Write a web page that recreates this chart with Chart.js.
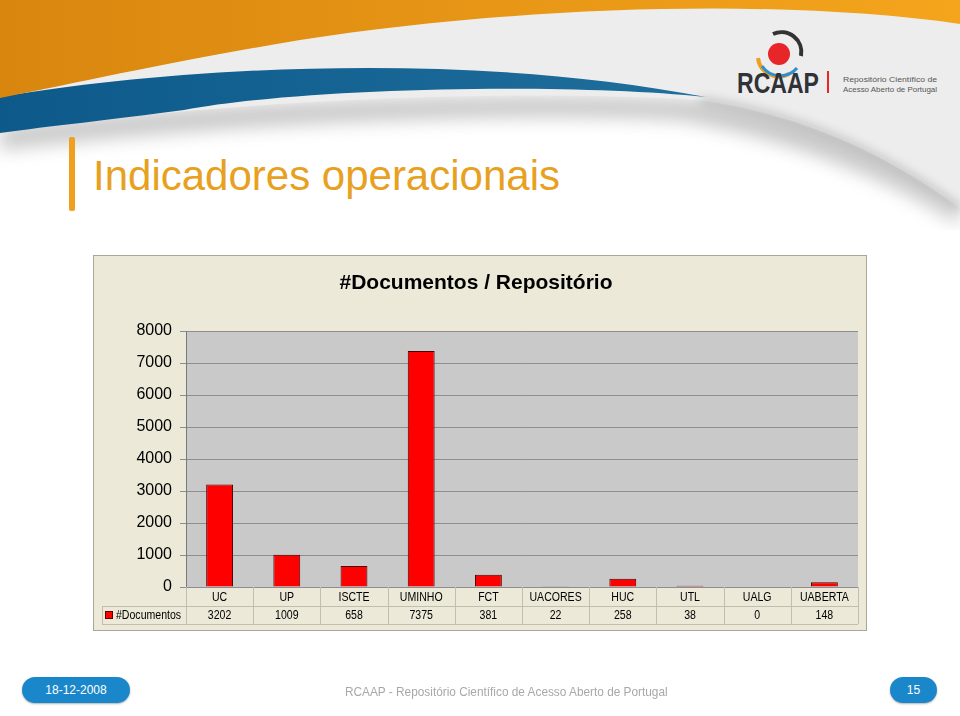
<!DOCTYPE html>
<html>
<head>
<meta charset="utf-8">
<script src="https://cdn.jsdelivr.net/npm/chart.js@4.4.1/dist/chart.umd.min.js"></script>
<style>
  html, body { margin: 0; padding: 0; background: #fff; }
  body { width: 960px; height: 716px; position: relative; overflow: hidden; font-family: "Liberation Sans", Arial, sans-serif; }
  #header { position: absolute; left: 0; top: 0; }
  #slideTitle { position: absolute; left: 93px; top: 152px; font-family: "Liberation Sans", Arial, sans-serif; font-size: 42px; color: #e7a11f; white-space: nowrap; }
  #titleBar { position: absolute; left: 69px; top: 137px; width: 6px; height: 74px; border-radius: 2px; background: #f0a020; }
  #chartBox { position: absolute; left: 94px; top: 256px; outline: 1px solid #aaa796; background: #ece9d8; }
  .pill { position: absolute; top: 677px; height: 26px; border-radius: 13px; background: #1b87cb; color: #fff; font-family: "Liberation Sans", sans-serif; font-size: 12px; line-height: 26px; text-align: center; box-shadow: 0 1px 2px rgba(0,0,0,0.3); }
  #footText { position: absolute; left: 345px; top: 684px; font-family: "Liberation Sans", sans-serif; font-size: 13px; color: #a8a8a8; white-space: nowrap; transform: scaleX(0.91); transform-origin: 0 0; }
</style>
</head>
<body>

<svg id="header" width="960" height="230" viewBox="0 0 960 230">
  <defs>
    <linearGradient id="og" x1="0" y1="0" x2="1" y2="0">
      <stop offset="0" stop-color="#d9860f"/>
      <stop offset="1" stop-color="#f4a51c"/>
    </linearGradient>
    <linearGradient id="bg" x1="0" y1="0" x2="1" y2="0">
      <stop offset="0" stop-color="#0d5a8a"/>
      <stop offset="1" stop-color="#1f6e9c"/>
    </linearGradient>
    <filter id="blur" x="-10%" y="-50%" width="120%" height="200%">
      <feGaussianBlur stdDeviation="9"/>
    </filter>
    <filter id="blur2" x="-10%" y="-50%" width="120%" height="200%">
      <feGaussianBlur stdDeviation="5"/>
    </filter>
  </defs>
  <!-- shadow under the grey band -->
  <path d="M0,128 C200,100 520,90 700,100 C820,112 900,160 960,205 L960,225 C900,185 800,140 680,120 C500,110 200,125 0,150 Z" fill="#9a9a9a" opacity="0.55" filter="url(#blur)"/>
  <!-- light grey band -->
  <path d="M0,0 L960,0 L960,208 C900,165 820,118 700,100 C520,88 220,100 0,132 Z" fill="#ededed"/>
  <path d="M700,100 C820,118 900,165 960,208" fill="none" stroke="#8c8c8c" stroke-width="6" opacity="0.5" filter="url(#blur2)"/>
  <!-- blue swoosh -->
  <path d="M0,97 C160,70 450,48 706,97 C560,82 300,88 184,110 C110,120 50,126 0,133 Z" fill="url(#bg)"/>
  <!-- orange swoosh -->
  <path d="M0,0 L960,0 L960,24 C780,-2 520,6 300,40 C180,60 90,80 0,98 Z" fill="url(#og)"/>
  <!-- logo -->
  <g transform="translate(779,54)">
    <path d="M-6,-20 A20,20 0 0 1 22,2" fill="none" stroke="#333" stroke-width="4"/>
    <path d="M-21,4 A21,21 0 0 0 10,20" fill="none" stroke="#f0a020" stroke-width="4"/>
    <path d="M-17,12 A22,22 0 0 0 18,14" fill="none" stroke="#2c8fd0" stroke-width="3"/>
    <ellipse cx="0" cy="0" rx="11" ry="11" fill="#e8262a"/>
  </g>
  <text x="737" y="93" font-family="Liberation Sans, Arial" font-weight="bold" font-size="29" fill="#2f3236" textLength="82" lengthAdjust="spacingAndGlyphs">RCAAP</text>
  <rect x="827" y="71" width="2" height="22" fill="#e8262a"/>
  <text x="843" y="82" font-family="Liberation Sans, Arial" font-size="8" fill="#555" textLength="94" lengthAdjust="spacingAndGlyphs">Repositório Científico de</text>
  <text x="843" y="92" font-family="Liberation Sans, Arial" font-size="8" fill="#555" textLength="94" lengthAdjust="spacingAndGlyphs">Acesso Aberto de Portugal</text>
</svg>

<div id="titleBar"></div>
<div id="slideTitle">Indicadores operacionais</div>

<canvas id="chartBox" width="772" height="374"></canvas>

<div class="pill" style="left:22px;width:108px;">18-12-2008</div>
<div id="footText">RCAAP - Repositório Científico de Acesso Aberto de Portugal</div>
<div class="pill" style="left:890px;width:47px;">15</div>

<script>
// --- Data ---
const categories = ['UC', 'UP', 'ISCTE', 'UMINHO', 'FCT', 'UACORES', 'HUC', 'UTL', 'UALG', 'UABERTA'];
const documentos = [3202, 1009, 658, 7375, 381, 22, 258, 38, 0, 148];
const seriesName = '#Documentos';
const chartTitle = '#Documentos / Repositório';
const yMin = 0;
const yMax = 8000;
const yStep = 1000;

const textSquash = 0.88; // the original table font is narrow

// grey plot background
const plotBackground = {
    id: 'plotBackground',
    beforeDraw(chart) {
        const { ctx, chartArea: a } = chart;
        ctx.save();
        ctx.fillStyle = '#c9c9c9';
        ctx.fillRect(a.left, a.top, a.right - a.left, a.bottom - a.top);
        ctx.restore();
    }
};

function narrowText(ctx, text, x, y) {
    ctx.save();
    ctx.translate(x, y);
    ctx.scale(textSquash, 1);
    ctx.fillText(text, 0, 0);
    ctx.restore();
}

// Excel-like data table under the x axis
const dataTable = {
    id: 'dataTable',
    afterDraw(chart) {
        const { ctx, chartArea: a } = chart;
        const x = chart.scales.x;
        const step = (a.right - a.left) / categories.length;
        const row1 = a.bottom + 19;
        const row2 = row1 + 18;
        const legendLeft = 8;

        ctx.save();
        ctx.strokeStyle = '#c2bead';
        ctx.lineWidth = 1;
        ctx.beginPath();
        ctx.moveTo(legendLeft, row1 + 0.5); ctx.lineTo(a.right, row1 + 0.5);
        ctx.moveTo(legendLeft, row2 + 0.5); ctx.lineTo(a.right, row2 + 0.5);
        ctx.moveTo(legendLeft + 0.5, row1); ctx.lineTo(legendLeft + 0.5, row2);
        for (let i = 0; i <= categories.length; i++) {
            const px = Math.round(a.left + i * step) + 0.5;
            ctx.moveTo(px, a.bottom); ctx.lineTo(px, row2);
        }
        ctx.stroke();

        ctx.fillStyle = '#000';
        ctx.font = '12px "Liberation Sans", Arial, sans-serif';
        ctx.textAlign = 'center';
        ctx.textBaseline = 'middle';
        categories.forEach((c, i) => {
            const cx = x.getPixelForValue(i);
            narrowText(ctx, c, cx, (a.bottom + row1) / 2 + 1);
            narrowText(ctx, String(documentos[i]), cx, (row1 + row2) / 2 + 1);
        });

        // legend key
        const ky = Math.round((row1 + row2) / 2 - 4);
        ctx.fillStyle = '#ff0000';
        ctx.fillRect(11, ky, 8, 8);
        ctx.strokeStyle = '#600000';
        ctx.strokeRect(11.5, ky + 0.5, 7, 7);
        ctx.fillStyle = '#000';
        ctx.textAlign = 'left';
        narrowText(ctx, seriesName, 22, (row1 + row2) / 2 + 1);
        ctx.restore();
    }
};

const ctx = document.getElementById('chartBox').getContext('2d');
new Chart(ctx, {
    type: 'bar',
    data: {
        labels: categories,
        datasets: [{
            label: seriesName,
            data: documentos,
            backgroundColor: '#ff0000',
            borderColor: '#4a0000',
            borderWidth: 1,
            barPercentage: 0.4,
            categoryPercentage: 1
        }]
    },
    options: {
        responsive: false,
        animation: false,
        devicePixelRatio: 1,
        layout: { padding: { left: 0, right: 8, top: 0, bottom: 0 } },
        plugins: {
            legend: { display: false },
            tooltip: { enabled: false },
            title: {
                display: true,
                text: chartTitle,
                color: '#000',
                font: { family: '"Liberation Sans", Arial, sans-serif', size: 21, weight: 'bold' },
                padding: { top: 15, bottom: 34.8 }
            }
        },
        scales: {
            x: {
                grid: { display: false },
                border: { display: false },
                ticks: { display: false },
                afterFit(scale) { scale.height = 43; }
            },
            y: {
                min: yMin,
                max: yMax,
                ticks: {
                    stepSize: yStep,
                    color: '#000',
                    padding: 8,
                    font: { family: '"Liberation Sans", Arial, sans-serif', size: 16 },
                    callback: (v) => String(v)
                },
                grid: { color: '#8e8e8e', tickLength: 6 },
                border: { color: '#7a7a7a' },
                afterFit(scale) { scale.width = 92; }
            }
        }
    },
    plugins: [plotBackground, dataTable]
});
</script>
</body>
</html>
